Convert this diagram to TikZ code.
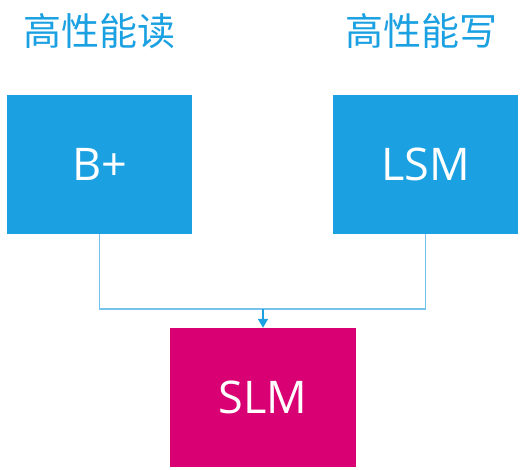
\documentclass[tikz,border=0pt]{standalone}
\usepackage{fontspec}
\setmainfont{Open Sans}
\newfontfamily\cjk{Noto Sans CJK SC}
\usepackage{tikz}
\usetikzlibrary{arrows.meta}
\definecolor{metroblue}{RGB}{27,161,226}
\definecolor{metromagenta}{RGB}{216,0,115}
\definecolor{linkblue}{RGB}{118,196,238}

\begin{document}
\begin{tikzpicture}[x=1pt,y=-1pt,
  box/.style={fill=metroblue, minimum width=185pt, minimum height=139pt, inner sep=0pt,
    text=white, font=\fontsize{45}{45}\selectfont},
  title/.style={text=metroblue, inner sep=0pt, font=\cjk\fontsize{38}{38}\selectfont},
  link/.style={linkblue, line width=1.2pt},
  arrow/.style={metroblue, line width=1.5pt, -{Triangle[length=9pt,width=10pt]}}]
\useasboundingbox (0,0) rectangle (522,469);
\node [title] (read) at (99.5,31) {高性能读};
\node [title] (write) at (421,31) {高性能写};
\node [box] (bplus) at (99.5,164.5) {B+};
\node [box] (lsm) at (425.5,164.5) {LSM};
\node [box, fill=metromagenta, minimum width=186pt] (slm) at (263,397.5) {SLM};
\coordinate (join) at (263,309);
\draw [link] (bplus.south) |- (join) -| (lsm.south);
\draw [arrow] (join) -- (slm.north);
\end{tikzpicture}
\end{document}
